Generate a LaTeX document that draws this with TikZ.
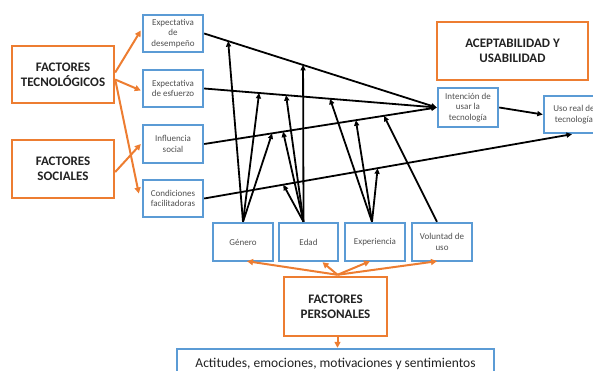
\documentclass[tikz,border=0pt]{standalone}
\usepackage{fontspec}
\setmainfont{Carlito}
\usetikzlibrary{calc,arrows.meta}
\definecolor{bbl}{HTML}{5B9BD5}
\definecolor{orn}{HTML}{ED7D31}
\definecolor{txg}{HTML}{505050}
\definecolor{txd}{HTML}{222222}
\begin{document}
\begin{tikzpicture}[x=1pt,y=-1pt,
 bbox/.style={draw=bbl, line width=2.4pt, fill=white, minimum width=60pt, minimum height=37pt, align=center, text=txg, font=\fontsize{9}{10.5}\selectfont, inner sep=1pt},
 obox/.style={draw=orn, line width=2.4pt, fill=white, align=center, text=txd, font=\fontsize{13}{15}\selectfont\bfseries, inner sep=1pt},
 oarr/.style={draw=orn, line width=2pt, -{Triangle[length=6pt,width=6pt]}},
 barr/.style={draw=black, line width=1.8pt, -{Triangle[length=5.5pt,width=5pt]}},
]
\useasboundingbox (0,0) rectangle (593,371);
% orange factor boxes
\node[obox, minimum width=102pt, minimum height=57pt] (tec) at (63,74.5) {FACTORES\\TECNOLÓGICOS};
\node[obox, minimum width=102pt, minimum height=58pt] (soc) at (63,169) {FACTORES\\SOCIALES};
\node[obox, minimum width=151pt, minimum height=58pt] (ace) at (512.5,51) {ACEPTABILIDAD Y\\USABILIDAD};
\node[obox, minimum width=103pt, minimum height=59pt] (per) at (335.5,306.5) {FACTORES\\PERSONALES};
% blue boxes
\node[bbox] (des) at (173,33.5) {Expectativa\\de\\desempeño};
\node[bbox] (esf) at (173,88.5) {Expectativa\\de esfuerzo};
\node[bbox, minimum height=38pt] (inf) at (173,144) {Influencia\\social};
\node[bbox] (con) at (173,198.5) {Condiciones\\facilitadoras};
\node[bbox, minimum height=39pt] (int) at (468,107.5) {Intención de\\usar la\\tecnología};
\node[bbox] (uso) at (574,114.5) {Uso real de\\tecnología};
\node[bbox, minimum height=38pt] (gen) at (243,242) {Género};
\node[bbox, minimum width=59pt, minimum height=38pt] (eda) at (308.5,242) {Edad};
\node[bbox, minimum height=38pt] (exp) at (375,242) {Experiencia};
\node[bbox, minimum height=38pt] (vol) at (442,242) {Voluntad de\\uso};
\node[draw=bbl, line width=2.4pt, fill=white, minimum width=317pt, minimum height=30pt, font=\fontsize{13.5}{15}\selectfont, text=txd] (act) at (335.5,364) {Actitudes, emociones, motivaciones y sentimientos};
% orange arrows
\draw[oarr] ($(tec.east)+(0,-2)$) -- ($(des.west)+(-1,-3)$);
\draw[oarr] ($(tec.east)+(0,5)$) -- ($(esf.west)+(-1,2)$);
\draw[oarr] ($(tec.east)+(0,5)$) -- ($(con.west)+(-3,-5)$);
\draw[oarr] ($(soc.east)+(0,3)$) -- ($(inf.west)+(-1,0)$);
\coordinate (pT) at ($(per.north)+(2,-1)$);
\draw[oarr] (pT) -- ($(gen.south)+(4,-1)$);
\draw[oarr] (pT) -- ($(eda.south)+(14,0)$);
\draw[oarr] (pT) -- ($(exp.south)+(-5,-1)$);
\draw[oarr] (pT) -- ($(vol.south)+(-5,-1)$);
\draw[oarr] ($(per.south)+(2,0)$) -- ($(act.north)+(2,0)$);
% main black arrows
\draw[barr] (des.east) -- (int.west);
\draw[barr] (esf.east) -- (int.west);
\draw[barr] (inf.east) -- (int.west);
\draw[barr] (con.east) -- ($(uso.south)+(-2,0)$);
\draw[barr] (int.east) -- (uso.west);
% moderator origins
\coordinate (gT) at (gen.north);
\coordinate (eT) at ($(eda.north)+(-5,0)$);
\coordinate (xT) at ($(exp.north)+(-3,0)$);
\coordinate (vT) at ($(vol.north)+(-5,0)$);
% moderator targets on main arrows
\coordinate (d1) at ($(des.east)!0.103!(int.west)$);
\coordinate (d2) at ($(des.east)!0.425!(int.west)$);
\coordinate (e1) at ($(esf.east)!0.236!(int.west)$);
\coordinate (e2) at ($(esf.east)!0.352!(int.west)$);
\coordinate (e3) at ($(esf.east)!0.541!(int.west)$);
\coordinate (f1) at ($(inf.east)!0.292!(int.west)$);
\coordinate (f2) at ($(inf.east)!0.339!(int.west)$);
\coordinate (f3) at ($(inf.east)!0.652!(int.west)$);
\coordinate (f4) at ($(inf.east)!0.773!(int.west)$);
\coordinate (c1) at ($(con.east)!0.214!(uso.south)$);
\coordinate (c2) at ($(con.east)!0.469!(uso.south)$);
\draw[barr] (gT) -- (d1);
\draw[barr] (gT) -- (e1);
\draw[barr] (gT) -- (f1);
\draw[barr] (eT) -- (d2);
\draw[barr] (eT) -- (e2);
\draw[barr] (eT) -- (f2);
\draw[barr] (eT) -- (c1);
\draw[barr] (xT) -- (e3);
\draw[barr] (xT) -- (f3);
\draw[barr] (xT) -- (c2);
\draw[barr] (vT) -- (f4);
\end{tikzpicture}
\end{document}
